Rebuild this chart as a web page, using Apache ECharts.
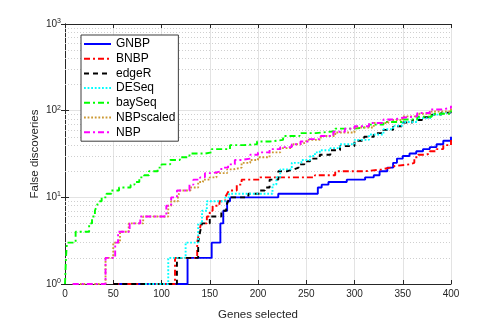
<!DOCTYPE html>
<html>
<head>
<meta charset="utf-8">
<script src="https://cdn.jsdelivr.net/npm/echarts@6/dist/echarts.min.js"></script>
<style>
  html, body { margin: 0; padding: 0; background: #fff; }
  #chart { width: 498px; height: 326px; }
</style>
</head>
<body>
<div id="chart"></div>
<script>
// step points: [genes selected, false discoveries], value holds until the next point
const gnbp = [[50,1],[127,2],[152,3],[161,5],[164,7],[168,9],[171,10],[221,11],[262,13],[266,14],[273,15],[292,16],[311,17],[320,18],[326,20],[334,22],[340,25],[344,28],[350,30],[357,32],[364,34],[371,36],[378,38],[385,41],[392,45],[400,50]]
const bnbp = [[50,1],[114,2],[137,3],[139,4],[141,5],[147,6],[150,7],[153,8],[160,9],[166,10],[168,11],[170,12],[178,14],[183,16],[202,17],[259,18],[280,20],[311,21],[328,22],[337,23],[342,24],[357,25],[362,29],[366,31],[374,32],[378,34],[385,36],[392,40],[400,46]]
const edgeR = [[50,1],[116,2],[138,3],[140,4],[142,5],[150,6],[162,7],[167,8],[169,9],[171,10],[190,11],[202,12],[207,13],[212,16],[221,20],[230,21],[237,22],[242,24],[248,26],[254,28],[264,31],[275,35],[285,39],[300,45],[310,50],[320,55],[330,60],[340,66],[350,73],[360,78],[370,84],[380,90],[390,95],[400,101]]
const deseq = [[83,1],[107,2],[125,3],[138,5],[142,7],[147,9],[166,10],[170,11],[215,14],[219,17],[223,21],[235,25],[245,27],[254,30],[259,33],[264,35],[275,37],[285,41],[300,46],[315,53],[330,61],[340,67],[350,74],[365,82],[380,90],[390,95],[400,99]]
const baySeq = [[0,1],[1,2],[2,3],[11,4],[25,5],[28,6],[31,7],[33,8],[35,9],[38,10],[43,11],[48,12],[56,13],[68,14],[72,15],[77,17],[82,18],[87,20],[96,22],[100,24],[109,27],[119,29],[129,32],[145,33],[152,36],[171,40],[185,41],[199,44],[212,46],[226,51],[243,55],[260,58],[280,62],[300,65],[315,69],[330,74],[350,79],[365,85],[380,92],[400,101]]
const nbpScaled = [[8,1],[42,2],[50,3],[57,4],[66,5],[81,6],[107,8],[110,9],[117,10],[119,12],[130,13],[138,15],[143,16],[150,17],[157,19],[168,21],[174,22],[183,25],[192,27],[200,29],[212,33],[223,37],[235,41],[244,43],[250,46],[265,51],[280,56],[300,64],[320,72],[335,78],[350,86],[365,92],[380,98],[400,107]]
const nbp = [[8,1],[42,2],[52,3],[55,4],[67,5],[78,6],[105,8],[110,10],[116,12],[129,14],[133,16],[140,17],[145,19],[153,20],[162,22],[169,24],[176,27],[183,28],[192,31],[200,33],[212,36],[223,38],[235,41],[244,44],[252,47],[265,51],[278,57],[290,62],[300,66],[315,72],[330,79],[340,83],[350,86],[365,94],[378,103],[390,108],[400,114]]

const names = ['GNBP', 'BNBP', 'edgeR', 'DESeq', 'baySeq', 'NBPscaled', 'NBP']
const minorLevels = [2, 3, 4, 5, 6, 7, 8, 9, 20, 30, 40, 50, 60, 70, 80, 90, 200, 300, 400, 500, 600, 700, 800, 900]

const axisColor = '#262626'
const font = 'Liberation Sans, Arial, sans-serif'

const chart = echarts.init(document.getElementById('chart'))

function line(name, data, color, type) {
  return {
    name: name,
    type: 'line',
    data: data,
    step: 'end',
    symbol: 'none',
    xAxisIndex: 0,
    yAxisIndex: 0,
    lineStyle: { color: color, width: 1.9, type: type },
    itemStyle: { color: color }
  }
}

const series = [
  line(names[0], gnbp, '#0000ff', 'solid'),
  line(names[1], bnbp, '#ff0000', [6, 3, 2, 3]),
  line(names[2], edgeR, '#000000', [5, 4]),
  line(names[3], deseq, '#00ffff', [1.8, 1.8]),
  line(names[4], baySeq, '#00ff00', [6, 3, 2, 3]),
  line(names[5], nbpScaled, '#cc9933', [1.8, 1.8]),
  line(names[6], nbp, '#ff00ff', [6, 3, 2, 3])
]
// dotted minor grid of the log axis
series[0].markLine = {
  silent: true,
  symbol: 'none',
  z: 1,
  label: { show: false },
  lineStyle: { color: '#cfcfcf', width: 1, type: [1, 2] },
  data: minorLevels.map(v => ({ yAxis: v }))
}

chart.setOption({
  animation: false,
  backgroundColor: '#fff',
  textStyle: { fontFamily: font },
  grid: { left: 65, right: 47, top: 24, bottom: 36 },
  legend: {
    data: names,
    orient: 'vertical',
    left: 81,
    top: 35,
    itemWidth: 27,
    itemHeight: 14,
    itemGap: 2.7,
    padding: [3, 3, 3, 2],
    backgroundColor: '#fff',
    borderColor: '#3c3c3c',
    borderWidth: 1,
    itemStyle: { opacity: 0, borderWidth: 0 },
    textStyle: { fontSize: 12, color: '#000', fontFamily: font }
  },
  xAxis: [{
    type: 'value',
    min: 0,
    max: 400,
    interval: 50,
    name: 'Genes selected',
    nameLocation: 'middle',
    nameGap: 25,
    nameMoveOverlap: false,
    nameTextStyle: { fontSize: 11.5, color: axisColor, fontFamily: font },
    axisLine: { show: true, lineStyle: { color: axisColor, width: 1 } },
    axisTick: { show: true, inside: true, length: 4, lineStyle: { color: axisColor } },
    axisLabel: { fontSize: 10, color: axisColor, margin: 5, fontFamily: font },
    splitLine: { show: true, lineStyle: { color: '#e3e3e3', width: 1 } }
  }, {
    type: 'value',
    position: 'top',
    min: 0,
    max: 400,
    interval: 50,
    axisLine: { show: true, lineStyle: { color: axisColor, width: 1 } },
    axisTick: { show: true, inside: true, length: 4, lineStyle: { color: axisColor } },
    axisLabel: { show: false },
    splitLine: { show: false }
  }],
  yAxis: [{
    type: 'log',
    logBase: 10,
    min: 1,
    max: 1000,
    name: 'False discoveries',
    nameLocation: 'middle',
    nameGap: 24,
    nameMoveOverlap: false,
    nameTextStyle: { fontSize: 11.5, color: axisColor, fontFamily: font },
    axisLine: { show: true, lineStyle: { color: axisColor, width: 1 } },
    axisTick: { show: true, inside: true, length: 4, lineStyle: { color: axisColor } },
    axisLabel: {
      margin: 4,
      formatter: v => '{b|10}{e|' + Math.round(Math.log10(v)) + '}',
      rich: {
        b: { fontSize: 10, color: axisColor, fontFamily: font },
        e: { fontSize: 7, color: axisColor, fontFamily: font, padding: [0, 0, 6, 0] }
      }
    },
    splitLine: { show: true, lineStyle: { color: '#e3e3e3', width: 1 } }
  }, {
    type: 'log',
    logBase: 10,
    min: 1,
    max: 1000,
    position: 'right',
    axisLine: { show: true, lineStyle: { color: axisColor, width: 1 } },
    axisTick: { show: true, inside: true, length: 4, lineStyle: { color: axisColor } },
    axisLabel: { show: false },
    splitLine: { show: false }
  }],
  series: series
})
</script>
</body>
</html>
